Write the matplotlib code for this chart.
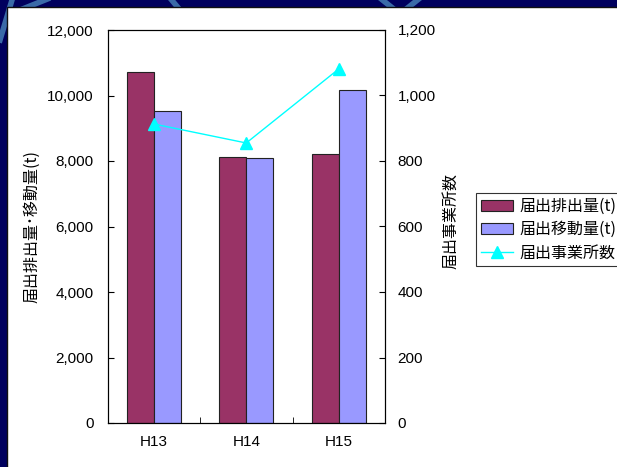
import numpy as np
import matplotlib.pyplot as plt
from matplotlib.patches import Rectangle
from matplotlib.lines import Line2D

years = ["H13", "H14", "H15"]
emission = [10730, 8130, 8220]      # 届出排出量(t)
transfer = [9530, 8090, 10170]      # 届出移動量(t)
sites = [913, 855, 1081]            # 届出事業所数

cjk = ["Noto Sans CJK JP", "DejaVu Sans"]
plt.rcParams["font.family"] = ["Liberation Sans", "Noto Sans CJK JP", "DejaVu Sans"]

fig = plt.figure(figsize=(6.17, 4.67), dpi=100, facecolor="#00005e")

# slide-like background: navy border with a few light strokes, white panel
W, H = 617, 467
def fx(x): return x / W
def fy(y): return 1 - y / H
for (x0, y0, x1, y1) in [(20, 10, 50, -2), (0, 40, 12, 0), (170, -2, 180, 10),
                         (395, 10, 380, -2), (405, 10, 420, -2)]:
    fig.add_artist(Line2D([fx(x0), fx(x1)], [fy(y0), fy(y1)], color="#3a6aa8", lw=4,
                          transform=fig.transFigure, zorder=-2))
fig.add_artist(Rectangle((fx(7), -0.01), 1, fy(6.5) + 0.01, transform=fig.transFigure,
                         facecolor="white", edgecolor="#101010", lw=1, zorder=-1))

ax = fig.add_axes([fx(107.5), fy(423), fx(385) - fx(107.5), fy(30) - fy(423)])
ax2 = ax.twinx()

x = np.arange(len(years))
w = 0.29
ax.bar(x - w / 2, emission, w, color="#993366", edgecolor="#222222", lw=0.8, label="届出排出量(t)")
ax.bar(x + w / 2, transfer, w, color="#9999ff", edgecolor="#222222", lw=0.8, label="届出移動量(t)")
ax2.plot(x, sites, color="#00ffff", lw=1, marker="^", markersize=9, label="届出事業所数")

ax.set_xlim(-0.5, 2.5)
ax.set_ylim(0, 12000)
ax2.set_ylim(0, 1200)
ax.set_yticks(np.arange(0, 12001, 2000))
ax2.set_yticks(np.arange(0, 1201, 200))
ax.yaxis.set_major_formatter(plt.FuncFormatter(lambda v, p: f"{int(v):,}"))
ax2.yaxis.set_major_formatter(plt.FuncFormatter(lambda v, p: f"{int(v):,}"))
ax.set_xticks(x)
ax.set_xticklabels(years)
ax.set_xticks([0.5, 1.5], minor=True)
ax.tick_params(axis="x", which="major", length=0, pad=9, labelsize=11)
ax.tick_params(axis="x", which="minor", direction="in", length=4)
ax.tick_params(axis="y", direction="in", length=4, pad=10, labelsize=11)
ax2.tick_params(axis="y", direction="in", length=4, pad=9, labelsize=11)

ax.set_ylabel("届出排出量･移動量(t)", family=cjk, fontsize=11.5)
ax.yaxis.set_label_coords(-0.243, 0.5)
ax2.set_ylabel("届出事業所数", family=cjk, fontsize=11.5)
ax2.yaxis.set_label_coords(1.205, 0.514)

h1, l1 = ax.get_legend_handles_labels()
h2, l2 = ax2.get_legend_handles_labels()
leg = fig.legend(h1 + h2, l1 + l2, loc="upper left", bbox_to_anchor=(fx(476), fy(193)),
                 prop={"family": cjk, "size": 11.5}, frameon=True, fancybox=False,
                 edgecolor="black", handlelength=2.0, handletextpad=0.4,
                 labelspacing=0.4, borderpad=0.3, borderaxespad=0)
leg.get_frame().set_linewidth(0.8)

fig.savefig("out.png", dpi=100, facecolor=fig.get_facecolor())
